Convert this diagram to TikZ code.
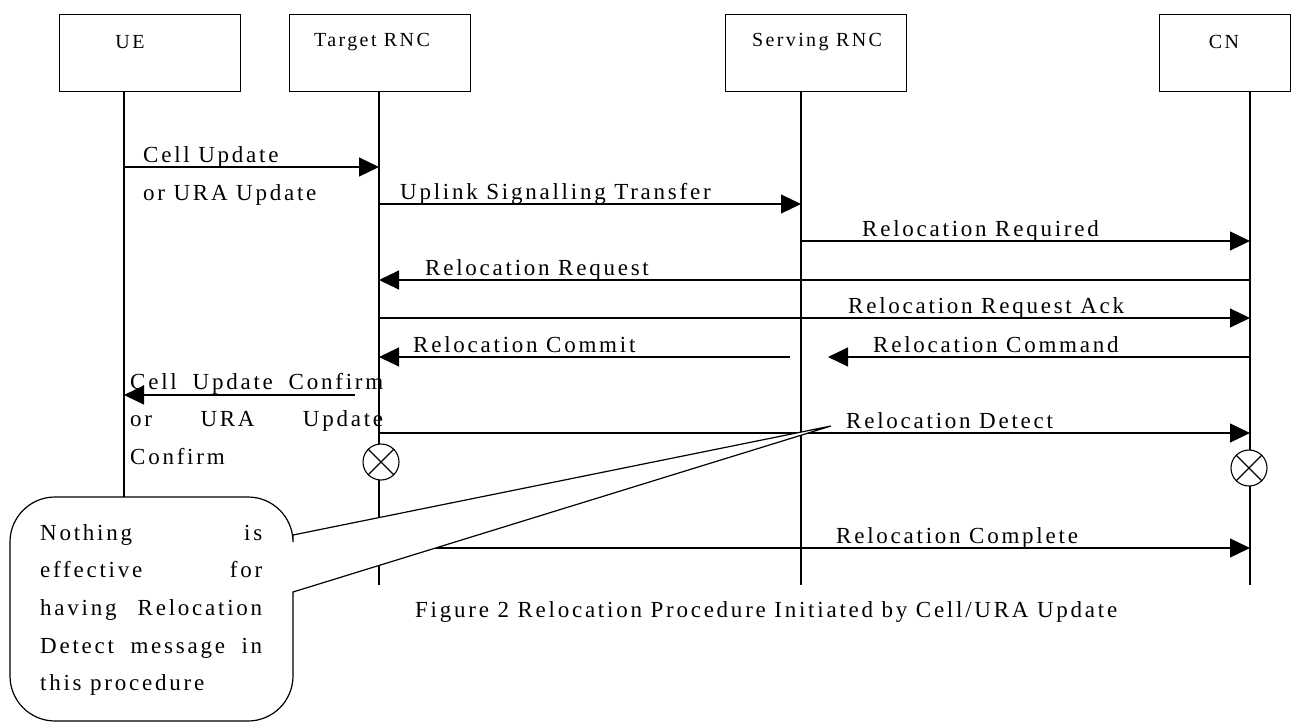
\documentclass[tikz,border=0pt]{standalone}
\usepackage{fontspec}
\setmainfont{Liberation Serif}[LetterSpace=12]
\usetikzlibrary{arrows.meta,positioning}

\tikzset{
  lifebox/.style={draw, line width=1.2pt, minimum width=181pt, minimum height=77pt, anchor=north west, inner sep=0pt},
  lifeline/.style={line width=1.1pt},
  msg/.style={line width=1.1pt, -{Triangle[length=20pt,width=19pt]}},
  lbl/.style={anchor=base west, inner sep=0pt},
  boxlbl/.style={font=\fontsize{20}{24}\selectfont},
  xcirc/.style={draw, circle, line width=1.1pt, minimum size=36pt, inner sep=0pt, fill=white},
  callout/.style={draw, line width=1.2pt, fill=white},
}

\begin{document}
\begin{tikzpicture}[x=1pt, y=-1pt, font=\fontsize{23}{27}\selectfont]
\useasboundingbox (0,0) rectangle (1298,723);
% entities
\node[lifebox] (ue) at (59,14) {};
\node[lifebox] (trnc) at (289,14) {};
\node[lifebox] (srnc) at (725,14) {};
\node[lifebox, minimum width=131pt] (cn) at (1159,14) {};
\node[boxlbl] at (130,42) {UE};
\node[boxlbl] at (372,42) {Target RNC};
\node[boxlbl] at (817,42) {Serving RNC};
\node[boxlbl] at (1224,42) {CN};
% lifelines
\coordinate (ueT) at (124,91);   \coordinate (ueB) at (124,497);
\coordinate (trT) at (379,91);   \coordinate (trB) at (379,585);
\coordinate (srT) at (801,91);   \coordinate (srB) at (801,585);
\coordinate (cnT) at (1250,91);  \coordinate (cnB) at (1250,585);
\draw[lifeline] (ueT) -- (ueB);
\draw[lifeline] (trT) -- (trB);
\draw[lifeline] (srT) -- (srB);
\draw[lifeline] (cnT) -- (cnB);
% message points
\foreach \n/\y in {1/167, 2/204, 3/241, 4/280, 5/318, 6/357, 7/395, 8/433, 9/548} {
  \coordinate (ue\n) at (124,\y);
  \coordinate (tr\n) at (379,\y);
  \coordinate (sr\n) at (801,\y);
  \coordinate (cn\n) at (1250,\y);
}
\coordinate (cmtS) at (790,357);
\coordinate (cmdE) at (828,357);
\coordinate (cfmS) at (355,395);
% messages
\draw[msg] (ue1) -- (tr1);
\node[lbl] at (143,162) {Cell Update};
\node[lbl] at (143,200) {or URA Update};
\draw[msg] (tr2) -- (sr2);
\node[lbl] at (400,199) {Uplink Signalling Transfer};
\draw[msg] (sr3) -- (cn3);
\node[lbl] at (862,236) {Relocation Required};
\draw[msg] (cn4) -- (tr4);
\node[lbl] at (425,275) {Relocation Request};
\draw[msg] (tr5) -- (cn5);
\node[lbl] at (848,313) {Relocation Request Ack};
\draw[msg] (cmtS) -- (tr6);
\node[lbl] at (413,352) {Relocation Commit};
\draw[msg] (cn6) -- (cmdE);
\node[lbl] at (873,352) {Relocation Command};
\draw[msg] (cfmS) -- (ue7);
\node[lbl] at (130,389)
  {\parbox[t]{253pt}{\fontsize{23}{37.5}\selectfont Cell Update Confirm\linebreak or URA Update\linebreak Confirm}};
\draw[msg] (tr8) -- (cn8);
\node[lbl] at (846,428) {Relocation Detect};
\node[xcirc] (x1) at (381,462) {};
\draw[line width=1.1pt] (x1.north west) -- (x1.south east) (x1.north east) -- (x1.south west);
\node[xcirc] (x2) at (1249,468) {};
\draw[line width=1.1pt] (x2.north west) -- (x2.south east) (x2.north east) -- (x2.south west);
\draw[msg] (tr9) -- (cn9);
\node[lbl] at (836,543) {Relocation Complete};
% caption
\node[lbl] at (415,617) {Figure 2 Relocation Procedure Initiated by Cell/URA Update};
% note
\draw[callout] (831,426) -- (293,535) {[rounded corners=45pt] -- (293,497) -- (10,497) -- (10,721) -- (293,721)} -- (293,592) -- cycle;
\node[lbl] (note) at (40,540)
  {\parbox[t]{222pt}{\fontsize{23}{37.7}\selectfont Nothing is\linebreak effective for\linebreak having Relocation\linebreak Detect message in\linebreak this procedure}};
\end{tikzpicture}
\end{document}
